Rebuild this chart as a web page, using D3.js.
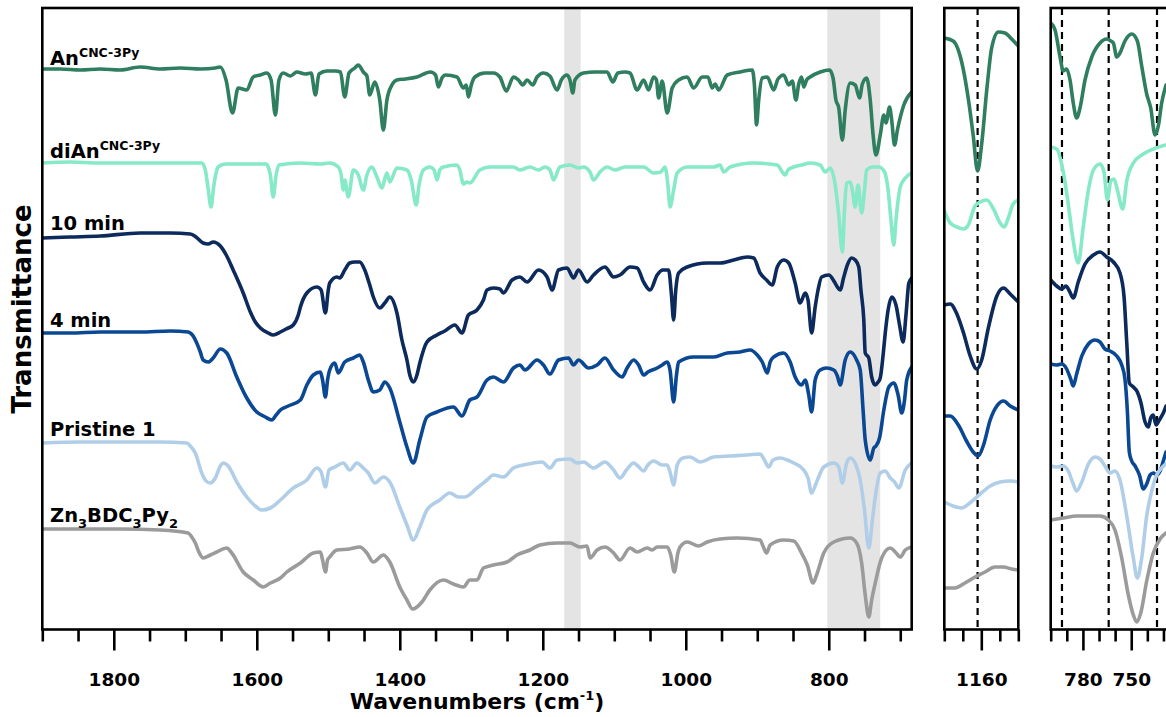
<!DOCTYPE html>
<html>
<head>
<meta charset="utf-8">
<script src="https://cdn.jsdelivr.net/npm/d3@7"></script>
<style>
  body { margin: 0; background: #fff; }
  text { font-family: "DejaVu Sans", "Liberation Sans", sans-serif; font-weight: bold; fill: #000; }
</style>
</head>
<body>
<svg id="chart" width="1166" height="717"></svg>
<script>
// ---- FTIR spectra: [wavenumber (cm-1), transmittance (offset, a.u.)] ----
const anMain = [[1900,56.0],[1875,56.0],[1847,55.9],[1819,56.0],[1791,55.9],[1763,56.2],[1735,56.0],[1707,56.1],[1679,56.0],[1658,56.1],[1651,56.2],[1643,54.9],[1634,51.6],[1626,54.1],[1614,53.9],[1605,55.2],[1595,55.4],[1586,55.6],[1580,54.9],[1574,51.4],[1569,54.9],[1563,55.6],[1553,55.3],[1544,55.7],[1532,55.5],[1524,55.6],[1518,53.4],[1513,55.5],[1502,55.8],[1490,55.8],[1483,55.7],[1477,53.2],[1471,55.6],[1463,56.1],[1458,56.4],[1451,55.7],[1446,55.3],[1442,53.4],[1435,54.7],[1428,52.9],[1423,49.9],[1418,52.9],[1411,54.4],[1404,54.9],[1392,55.0],[1376,55.2],[1357,55.7],[1350,55.4],[1346,54.2],[1341,55.1],[1336,55.4],[1320,55.2],[1311,54.1],[1307,54.4],[1304,53.2],[1300,54.4],[1295,55.2],[1281,55.6],[1269,55.6],[1260,55.2],[1251,53.8],[1241,55.2],[1234,54.9],[1228,54.4],[1222,54.9],[1214,54.4],[1208,55.2],[1199,55.6],[1190,55.3],[1180,53.9],[1174,54.9],[1166,55.4],[1162,54.9],[1158,53.6],[1155,54.9],[1143,55.6],[1127,55.7],[1110,55.7],[1102,54.7],[1095,55.6],[1085,55.7],[1078,55.6],[1068,53.9],[1059,54.9],[1052,53.9],[1045,55.2],[1041,54.9],[1038,53.1],[1033,54.8],[1026,51.6],[1019,54.1],[1010,54.9],[998,55.2],[989,54.1],[977,55.2],[969,55.2],[963,54.1],[959,54.5],[954,53.9],[942,55.4],[924,55.7],[907,55.9],[904,54.4],[901,50.4],[898,52.9],[893,55.1],[886,55.2],[877,53.9],[871,55.0],[863,55.4],[856,54.4],[851,54.8],[846,52.9],[842,54.5],[838,55.2],[835,54.2],[831,54.9],[826,55.2],[812,55.7],[799,55.9],[794,55.1],[790,52.9],[786,52.1],[781,48.9],[777,51.9],[770,54.6],[763,54.4],[757,53.1],[753,54.5],[747,55.1],[742,52.9],[738,49.4],[734,47.4],[728,49.4],[723,51.4],[720,50.6],[715,52.2],[712,50.9],[708,48.4],[704,49.9],[695,52.4],[684,53.7]];

const dianMain = [[1900,46.6],[1861,46.7],[1819,46.6],[1777,46.6],[1735,46.6],[1693,46.6],[1677,46.6],[1672,45.9],[1668,44.0],[1664,42.2],[1660,44.4],[1654,46.2],[1644,46.5],[1609,46.5],[1587,46.5],[1584,46.2],[1581,45.4],[1577,43.2],[1573,45.4],[1569,46.4],[1539,46.6],[1511,46.5],[1498,46.6],[1486,46.2],[1482,45.4],[1479,43.9],[1477,44.9],[1472,43.2],[1465,45.9],[1458,45.4],[1451,43.9],[1446,45.4],[1439,46.2],[1432,45.2],[1425,44.1],[1418,45.6],[1414,44.7],[1404,46.1],[1390,45.9],[1384,44.9],[1377,42.4],[1373,44.4],[1367,45.9],[1358,46.2],[1352,45.9],[1348,44.9],[1344,45.9],[1339,46.2],[1320,46.4],[1316,45.9],[1311,44.5],[1306,44.7],[1302,44.6],[1288,45.9],[1274,46.2],[1241,46.2],[1232,45.9],[1218,46.2],[1206,45.9],[1197,46.2],[1190,45.9],[1185,44.9],[1176,46.2],[1162,46.4],[1150,46.1],[1143,46.2],[1134,45.7],[1129,44.9],[1120,45.7],[1110,46.2],[1099,45.9],[1085,46.2],[1059,46.2],[1045,45.6],[1035,45.7],[1029,46.2],[1025,44.4],[1022,42.2],[1017,43.9],[1012,45.6],[998,46.2],[961,46.2],[952,46.4],[947,45.7],[938,46.2],[905,46.6],[872,46.4],[865,45.7],[861,45.4],[857,45.9],[849,46.2],[838,46.4],[826,46.6],[812,46.4],[805,45.7],[798,46.1],[791,44.4],[786,41.4],[781,37.7],[778,41.9],[775,44.6],[770,44.7],[767,43.9],[763,42.2],[759,44.4],[754,41.6],[750,43.9],[747,45.9],[739,46.2],[730,46.2],[722,45.7],[717,43.9],[713,40.9],[709,38.4],[706,40.9],[700,44.2],[693,45.1],[684,45.6]];

const tenMinMain = [[1900,39.1],[1861,39.2],[1819,39.3],[1763,39.6],[1721,39.6],[1693,39.5],[1685,39.2],[1675,38.6],[1668,38.5],[1661,38.7],[1651,38.3],[1642,37.3],[1633,35.9],[1619,33.6],[1609,31.7],[1602,30.7],[1595,30.1],[1584,29.6],[1577,29.4],[1567,29.7],[1559,30.0],[1549,30.4],[1542,31.4],[1539,32.2],[1530,33.6],[1516,34.2],[1510,33.9],[1504,31.6],[1500,33.9],[1498,34.6],[1488,35.2],[1484,35.1],[1477,35.9],[1470,36.6],[1463,36.7],[1456,36.7],[1449,35.9],[1442,34.4],[1437,33.2],[1428,32.1],[1421,32.6],[1414,33.2],[1404,31.6],[1397,28.9],[1390,26.9],[1386,25.4],[1381,24.7],[1376,25.4],[1372,26.6],[1362,28.7],[1348,29.4],[1337,29.8],[1323,30.4],[1313,29.6],[1304,31.4],[1292,31.9],[1283,32.9],[1278,33.9],[1269,34.1],[1260,34.0],[1255,33.6],[1243,34.9],[1232,35.2],[1222,34.7],[1206,35.9],[1194,35.2],[1187,33.9],[1178,35.9],[1166,36.1],[1157,35.1],[1150,35.9],[1138,34.7],[1129,35.4],[1113,36.2],[1101,35.2],[1092,35.4],[1078,36.2],[1068,36.1],[1059,34.7],[1050,33.9],[1040,35.4],[1032,35.9],[1024,35.9],[1020,33.4],[1017,30.9],[1014,33.9],[1010,35.6],[998,36.2],[970,36.6],[952,36.6],[933,36.9],[914,37.2],[905,37.1],[896,35.6],[887,34.9],[879,34.4],[872,36.2],[863,36.9],[856,36.6],[847,34.6],[840,32.6],[833,33.6],[829,32.9],[824,29.6],[819,32.2],[815,33.9],[810,35.2],[800,35.4],[792,34.7],[788,34.2],[784,33.9],[779,35.2],[774,36.4],[768,37.1],[763,36.9],[758,36.2],[755,33.9],[751,30.9],[749,27.6],[744,27.1],[740,25.2],[735,24.4],[731,24.7],[728,25.1],[724,27.4],[721,29.6],[717,31.9],[712,33.2],[706,32.4],[701,30.4],[696,28.7],[692,31.4],[688,34.6],[684,35.1]];

const fourMinMain = [[1900,29.6],[1861,29.6],[1819,29.7],[1763,29.7],[1721,29.8],[1696,29.7],[1689,29.3],[1684,28.6],[1679,27.7],[1675,26.9],[1668,26.7],[1661,27.1],[1651,28.0],[1642,27.6],[1628,25.2],[1614,23.1],[1600,21.7],[1588,21.2],[1579,20.9],[1573,21.4],[1567,21.9],[1556,22.3],[1539,22.9],[1530,24.4],[1521,25.4],[1511,25.7],[1508,24.9],[1504,23.2],[1501,24.9],[1498,25.9],[1491,26.6],[1486,25.6],[1477,26.7],[1465,27.1],[1456,27.4],[1451,26.7],[1444,24.9],[1437,23.7],[1428,23.9],[1421,24.7],[1414,24.1],[1400,20.7],[1390,18.2],[1381,16.6],[1372,18.9],[1362,21.2],[1348,21.7],[1325,22.2],[1313,21.3],[1302,22.9],[1292,23.2],[1278,24.9],[1269,25.2],[1255,24.7],[1241,26.1],[1232,26.4],[1225,25.9],[1208,26.9],[1199,26.4],[1190,25.5],[1178,26.9],[1164,27.1],[1157,26.4],[1150,26.9],[1136,26.1],[1124,26.4],[1113,27.1],[1101,25.9],[1089,25.2],[1082,26.1],[1073,26.9],[1066,26.4],[1059,25.4],[1053,25.7],[1040,26.1],[1033,26.4],[1026,26.7],[1022,25.9],[1017,22.7],[1013,25.4],[1010,26.7],[989,27.2],[961,27.2],[942,27.6],[924,27.7],[910,27.9],[900,27.4],[893,26.7],[886,25.6],[882,26.7],[877,27.2],[863,27.6],[854,26.7],[847,25.2],[838,24.4],[833,24.9],[828,23.4],[824,21.7],[819,24.9],[812,25.9],[803,26.1],[793,25.9],[788,25.3],[784,24.4],[777,26.9],[770,27.7],[761,26.9],[756,25.9],[752,21.9],[749,18.9],[742,16.9],[737,18.1],[734,18.3],[729,19.1],[723,21.9],[716,24.2],[709,24.6],[703,23.4],[698,21.6],[694,22.9],[691,24.9],[684,26.2]];

const pristineMain = [[1900,18.6],[1847,18.7],[1791,18.7],[1735,18.7],[1698,18.6],[1692,18.2],[1686,17.6],[1677,15.6],[1671,14.8],[1665,14.6],[1658,15.1],[1651,16.3],[1647,16.6],[1640,16.3],[1628,14.7],[1614,13.2],[1602,12.3],[1593,11.9],[1581,12.1],[1567,12.9],[1549,14.1],[1530,14.9],[1516,16.1],[1510,15.7],[1504,14.2],[1499,15.9],[1491,16.2],[1479,16.6],[1470,15.9],[1460,16.6],[1451,16.1],[1444,15.6],[1435,14.6],[1423,15.2],[1414,14.7],[1400,12.2],[1390,10.4],[1381,8.9],[1372,10.2],[1362,11.9],[1344,12.9],[1330,13.6],[1318,13.2],[1309,13.2],[1292,14.1],[1278,14.9],[1269,15.4],[1255,15.2],[1241,16.1],[1227,16.4],[1213,16.6],[1201,16.7],[1190,16.1],[1180,16.9],[1162,17.0],[1152,16.6],[1143,16.7],[1129,16.1],[1113,16.7],[1101,15.9],[1092,15.1],[1083,15.9],[1073,16.6],[1067,16.3],[1059,15.8],[1053,16.4],[1045,16.8],[1033,16.4],[1026,16.4],[1022,15.7],[1017,14.4],[1012,16.4],[1004,17.1],[994,17.2],[980,16.7],[961,17.2],[938,17.3],[914,17.4],[896,17.5],[890,16.9],[884,16.2],[878,16.9],[868,17.1],[858,16.9],[849,16.6],[835,15.9],[829,15.1],[824,13.6],[817,14.7],[807,16.2],[793,16.6],[786,16.2],[781,14.6],[775,16.6],[770,17.1],[762,16.4],[756,14.9],[750,11.9],[744,8.1],[739,10.9],[735,13.2],[728,15.6],[721,15.8],[714,15.1],[708,14.7],[702,14.1],[693,15.9],[684,16.6]];

const znMain = [[1900,10.0],[1847,10.0],[1791,10.0],[1735,9.9],[1696,9.6],[1691,9.2],[1686,8.6],[1681,7.7],[1675,7.1],[1665,7.4],[1656,7.7],[1642,8.1],[1635,7.6],[1619,5.7],[1605,4.9],[1591,4.2],[1581,4.6],[1567,5.1],[1558,5.7],[1539,6.6],[1521,7.6],[1511,7.7],[1508,6.9],[1504,5.7],[1501,6.9],[1498,7.2],[1488,7.9],[1470,8.0],[1456,8.2],[1446,7.6],[1437,6.7],[1423,7.4],[1414,6.7],[1400,4.2],[1390,2.9],[1382,2.0],[1369,2.7],[1358,3.9],[1339,4.9],[1325,4.5],[1311,4.2],[1302,4.9],[1292,4.9],[1283,6.1],[1269,6.4],[1250,6.7],[1236,7.4],[1218,7.9],[1204,8.4],[1180,8.6],[1162,8.6],[1148,8.2],[1138,8.3],[1134,7.1],[1124,7.9],[1113,8.2],[1101,7.6],[1092,6.9],[1078,8.1],[1068,7.7],[1054,8.1],[1047,7.9],[1040,8.2],[1026,8.2],[1021,7.4],[1016,5.7],[1011,7.6],[1008,8.2],[998,8.7],[982,8.3],[970,8.7],[952,9.0],[928,9.1],[896,8.9],[892,8.3],[887,7.6],[882,8.4],[863,8.9],[849,8.8],[838,7.6],[830,6.4],[822,4.6],[817,5.4],[807,7.6],[793,8.7],[770,9.1],[761,8.6],[754,6.6],[749,3.4],[744,1.2],[740,2.9],[735,4.6],[726,7.1],[714,8.1],[707,7.7],[700,7.2],[693,7.9],[684,8.2]];

// ---- expanded window 1170-1150 cm-1 (rescaled per trace) ----
const anZoomA = [[1170,59.1],[1167.6,58.8],[1165.3,56.7],[1163.5,53.0],[1162.2,49.4],[1161,45.8],[1159.9,48.5],[1158.5,54.0],[1157.2,58.1],[1155.4,59.7],[1153.6,59.6],[1151.8,59.0],[1150,58.3]];
const dianZoomA = [[1170,41.8],[1168.4,40.6],[1166.6,40.2],[1164.8,40.0],[1163.5,40.4],[1161.7,42.3],[1160.3,42.7],[1158.5,42.9],[1156.7,42.0],[1154.9,40.6],[1153.8,40.2],[1152.7,41.1],[1151.4,42.5],[1150,42.9]];
const tenMinZoomA = [[1170,32.4],[1168.4,32.5],[1166.6,31.5],[1164.8,29.6],[1163,27.3],[1161.2,26.0],[1159.9,26.9],[1158.1,30.1],[1155.8,33.3],[1154,34.1],[1152.2,33.5],[1150,32.7]];
const fourMinZoomA = [[1170,21.3],[1168.4,21.3],[1166.2,20.4],[1164,18.8],[1162.2,17.7],[1160.8,17.3],[1159.4,18.4],[1157.6,20.9],[1155.8,22.3],[1154,22.8],[1152.2,22.3],[1150,21.9]];
const pristineZoomA = [[1170,12.7],[1167.6,12.3],[1165.3,12.1],[1163.1,12.6],[1160.3,13.5],[1157.6,14.3],[1154.9,14.7],[1152.2,14.8],[1150,14.7]];
const znZoomA = [[1170,4.1],[1167.1,4.1],[1164.4,4.6],[1161.7,5.2],[1159,5.7],[1156.3,6.2],[1154,6.2],[1151.8,6.0],[1150,5.9]];

// ---- expanded window 800-727 cm-1 (rescaled per trace) ----
const anZoomB = [[800,60.6],[797.3,59.9],[794.2,57.2],[792.2,55.8],[790.1,56.0],[788,54.9],[786,52.6],[783.9,51.1],[781.8,52.1],[778.7,54.9],[774.5,57.2],[769.4,58.6],[765.2,59.0],[762.7,58.8],[761.1,58.6],[759,57.2],[757,57.6],[753.9,58.8],[749.7,59.5],[746.2,58.8],[743.5,56.3],[740.4,53.5],[737.9,52.1],[735.2,49.4],[733.2,50.3],[731.1,52.6],[728.4,54.4]];
const dianZoomB = [[800,48.2],[796.3,48.0],[792.2,45.7],[789.1,42.5],[786,38.8],[782.9,36.6],[779.8,40.2],[776.6,43.9],[773.5,45.9],[769.4,46.5],[766.9,45.7],[764.8,42.9],[762.7,44.8],[760.7,45.0],[758.6,43.9],[755.3,42.0],[752.8,44.8],[748.7,46.6],[742.5,47.5],[736.3,48.0],[728.4,48.4]];
const tenMinZoomB = [[800,34.9],[796.3,34.3],[793.2,34.0],[790.5,34.3],[788.4,33.8],[786,33.1],[782.9,34.7],[778.7,36.5],[773.5,37.4],[769.4,37.7],[765.2,37.2],[761.1,36.7],[757,35.6],[754.5,33.3],[752.8,28.7],[751.2,24.6],[748.7,24.2],[746.2,23.7],[744.1,22.7],[741.4,20.7],[739.4,20.2],[737.9,21.1],[736.3,21.4],[734.6,20.4],[732.6,20.9],[730.1,21.6],[728.4,22.3]];
const fourMinZoomB = [[800,26.5],[796.3,26.4],[793.2,26.5],[790.1,26.0],[787.6,25.0],[786,24.3],[783.9,25.5],[780.7,27.3],[776.6,28.5],[772.5,28.9],[769.4,28.7],[766.3,28.0],[763.2,27.8],[759,27.3],[755.9,26.4],[753.9,25.0],[752.4,21.8],[751.2,17.7],[749.7,16.8],[747.6,16.3],[744.9,15.4],[742.5,14.0],[740.4,14.5],[738.3,15.4],[736.3,15.6],[734.2,15.4],[732.1,15.8],[730.1,16.8],[728.4,17.7]];
const pristineZoomB = [[800,16.3],[796.3,16.2],[792.2,16.3],[789.1,15.8],[786,14.5],[783.9,13.8],[780.7,14.7],[776.6,16.5],[772.5,17.2],[769.4,17.0],[766.3,16.3],[763.2,15.6],[760.1,15.8],[757,14.9],[752.8,11.3],[748.7,7.1],[746.2,5.1],[743.5,7.1],[740.4,11.3],[737.3,13.8],[734.2,15.4],[731.1,16.1],[728.4,16.5]];
const znZoomB = [[800,10.9],[792.2,11.1],[783.9,11.3],[775.6,11.3],[769.4,11.3],[764.2,10.9],[760.1,9.9],[755.9,7.1],[751.8,3.4],[748.7,1.4],[746.6,0.7],[744.1,1.6],[740.4,4.8],[736.3,7.6],[732.1,9.0],[728.4,9.6]];

// ---- series styling and labels ----
const seriesColors = ["#2f7e5f", "#86e9c7", "#0c2a5c", "#0b4894", "#b1cee9", "#9b9b9b"];
const mainData = [anMain, dianMain, tenMinMain, fourMinMain, pristineMain, znMain];
const zoomAData = [anZoomA, dianZoomA, tenMinZoomA, fourMinZoomA, pristineZoomA, znZoomA];
const zoomBData = [anZoomB, dianZoomB, tenMinZoomB, fourMinZoomB, pristineZoomB, znZoomB];
// label pieces: [text, role] with role n = normal, sup = superscript, sub = subscript
const seriesLabels = [
  [["An","n"],["CNC-3Py","sup"]],
  [["diAn","n"],["CNC-3Py","sup"]],
  [["10 min","n"]],
  [["4 min","n"]],
  [["Pristine 1","n"]],
  [["Zn","n"],["3","sub"],["BDC","n"],["3","sub"],["Py","n"],["2","sub"]]
];
// label baselines, in the same units as the traces
const labelLevels = [56.4, 47.1, 39.9, 30.2, 19.3, 10.7];

// ---- axes ----
const mainDomain = [1900, 684];
const mainMajorTicks = [1800, 1600, 1400, 1200, 1000, 800];
const mainMinorTicks = [1900, 1850, 1750, 1700, 1650, 1550, 1500, 1450, 1350, 1300, 1250, 1150, 1100, 1050, 950, 900, 850, 750, 700];
const highlightBands = [[1170, 1147], [802, 728]];

const zoomADomain = [1170, 1150];
const zoomAMajorTicks = [1160];
const zoomAMinorTicks = [1170, 1165, 1155, 1150];
const zoomAMarkers = [1161];

const zoomBDomain = [800, 726.8];
const zoomBMajorTicks = [780, 750];
const zoomBMinorTicks = [800, 790, 770, 760, 740, 730];
const zoomBMarkers = [793, 764, 734];

const yDomain = [0, 62.1];

// ---- layout ----
const plotTop = 8, plotBottom = 629.5;
const svg = d3.select("#chart");
const y = d3.scaleLinear().domain(yDomain).range([629, 8]);

const panels = [
  { id: "main", domain: mainDomain, range: [42.3, 911.7], major: mainMajorTicks, minor: mainMinorTicks, data: mainData, bands: highlightBands, markers: [] },
  { id: "zA", domain: zoomADomain, range: [944.3, 1018.3], major: zoomAMajorTicks, minor: zoomAMinorTicks, data: zoomAData, bands: [], markers: zoomAMarkers },
  { id: "zB", domain: zoomBDomain, range: [1050.7, 1168.6], major: zoomBMajorTicks, minor: zoomBMinorTicks, data: zoomBData, bands: [], markers: zoomBMarkers }
];

const defs = svg.append("defs");

panels.forEach(p => {
  const x = d3.scaleLinear().domain(p.domain).range(p.range);
  const g = svg.append("g").attr("class", "panel-" + p.id);

  defs.append("clipPath").attr("id", "clip-" + p.id)
    .append("rect")
    .attr("x", p.range[0]).attr("y", plotTop)
    .attr("width", p.range[1] - p.range[0]).attr("height", plotBottom - plotTop);

  // shaded regions
  g.selectAll("rect.band").data(p.bands).join("rect")
    .attr("class", "band")
    .attr("x", d => x(d[0])).attr("y", plotTop)
    .attr("width", d => x(d[1]) - x(d[0]))
    .attr("height", plotBottom - plotTop)
    .attr("fill", "#e4e4e4");

  // dashed reference lines
  g.selectAll("line.marker").data(p.markers).join("line")
    .attr("class", "marker")
    .attr("x1", d => x(d)).attr("x2", d => x(d))
    .attr("y1", plotTop).attr("y2", plotBottom)
    .attr("stroke", "#000").attr("stroke-width", 2.2)
    .attr("stroke-dasharray", "7,5");

  // spectra
  const line = d3.line()
    .x(d => x(d[0])).y(d => y(d[1]))
    .curve(d3.curveMonotoneX);

  g.append("g").attr("clip-path", `url(#clip-${p.id})`)
    .selectAll("path").data(p.data).join("path")
    .attr("d", d => line(d))
    .attr("fill", "none")
    .attr("stroke", (d, i) => seriesColors[i])
    .attr("stroke-width", 3.6)
    .attr("stroke-linejoin", "round")
    .attr("stroke-linecap", "round");

  // frame
  g.append("rect")
    .attr("x", p.range[0]).attr("y", plotTop)
    .attr("width", p.range[1] - p.range[0]).attr("height", plotBottom - plotTop)
    .attr("fill", "none").attr("stroke", "#000").attr("stroke-width", 2.6);

  // ticks
  const majorAxis = d3.axisBottom(x).tickValues(p.major).tickSize(21)
    .tickSizeOuter(0).tickPadding(23).tickFormat(d3.format("d"));
  const minorAxis = d3.axisBottom(x).tickValues(p.minor).tickSize(12)
    .tickSizeOuter(0).tickFormat("");

  [minorAxis, majorAxis].forEach(ax => {
    const ag = g.append("g").attr("transform", `translate(0,${plotBottom})`).call(ax);
    ag.select(".domain").remove();
    ag.selectAll(".tick line").attr("stroke", "#000").attr("stroke-width", 2.6);
    ag.selectAll(".tick text")
      .attr("fill", "#000")
      .attr("dy", "0.68em")
      .style("font-family", '"DejaVu Sans", sans-serif')
      .style("font-weight", "bold")
      .style("font-size", "18.5px");
  });
});

// series labels on the left of the main panel
const labelX = 50;
seriesLabels.forEach((parts, i) => {
  const t = svg.append("text")
    .attr("x", labelX).attr("y", y(labelLevels[i]))
    .style("font-size", "19.5px");
  let shift = 0;
  parts.forEach(([txt, role]) => {
    let target = 0, size = "19.5px";
    if (role === "sup") { target = -8; size = "12.5px"; }
    if (role === "sub") { target = 6; size = "13px"; }
    t.append("tspan").text(txt)
      .attr("dy", target - shift)
      .style("font-size", size);
    shift = target;
  });
});

// axis titles
const xt = svg.append("text")
  .attr("x", 477).attr("y", 709)
  .attr("text-anchor", "middle")
  .style("font-size", "22px");
xt.append("tspan").text("Wavenumbers (cm");
xt.append("tspan").text("-1").attr("dy", -9).style("font-size", "13px");
xt.append("tspan").text(")").attr("dy", 9);

svg.append("text")
  .attr("transform", "translate(31,309) rotate(-90)")
  .attr("text-anchor", "middle")
  .style("font-size", "26px")
  .text("Transmittance");
</script>
</body>
</html>
